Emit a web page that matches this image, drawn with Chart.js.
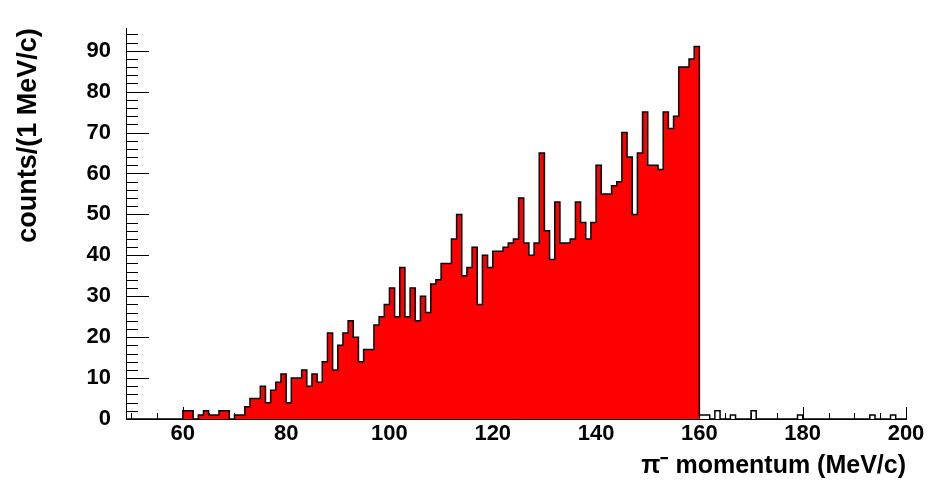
<!DOCTYPE html>
<html>
<head>
<meta charset="utf-8">
<script src="https://cdn.jsdelivr.net/npm/chart.js@4/dist/chart.umd.min.js"></script>
<style>
  html, body { margin: 0; padding: 0; background: #fff; }
  canvas { display: block; }
</style>
</head>
<body>
<canvas id="c" width="939" height="484"></canvas>
<script>
// Histogram: counts per 1 MeV/c bin, bins start at 49 MeV/c and end at 200 MeV/c
const firstBinEdge = 49;
const lastBinEdge = 200;
const counts = [
  // 49-59
  0, 0, 0, 0, 0, 0, 0, 0, 0, 0, 0,
  // 60-69
  2, 2, 0, 1, 2, 1, 1, 2, 2, 0,
  // 70-79
  1, 1, 3, 5, 5, 8, 4, 7, 9, 11,
  // 80-89
  4, 10, 10, 12, 8, 11, 9, 14, 21, 12,
  // 90-99
  18, 21, 24, 20, 14, 17, 17, 23, 25, 28,
  // 100-109
  32, 25, 37, 25, 32, 24, 30, 26, 33, 34,
  // 110-119
  38, 38, 44, 50, 35, 37, 42, 28, 40, 37,
  // 120-129
  41, 41, 42, 43, 44, 54, 43, 40, 43, 65,
  // 130-139
  46, 39, 53, 43, 43, 44, 53, 48, 44, 48,
  // 140-149
  62, 55, 55, 57, 58, 70, 64, 50, 65, 75,
  // 150-159
  62, 62, 61, 75, 71, 74, 86, 86, 88, 91,
  // 160-169
  1, 1, 0, 2, 0, 0, 1, 0, 0, 0,
  // 170-179
  2, 0, 0, 0, 0, 0, 0, 0, 0, 1,
  // 180-189
  0, 0, 0, 0, 0, 0, 0, 0, 0, 0,
  // 190-199
  0, 0, 0, 1, 0, 0, 0, 1, 0, 0
];
// range of bins drawn filled in red
const filledFrom = 60;
const filledTo = 160;
const xTickLabels = [60, 80, 100, 120, 140, 160, 180, 200];
const yTickLabels = [0, 10, 20, 30, 40, 50, 60, 70, 80, 90];
const yMax = 95.5;

const binEdges = counts.map((_, i) => firstBinEdge + i);
const outlineData = binEdges.map((e, i) => ({ x: e, y: counts[i] }));
outlineData.push({ x: lastBinEdge, y: 0 });
const fillData = binEdges
  .map((e, i) => ({ x: e, y: counts[i] }))
  .filter(p => p.x >= filledFrom && p.x < filledTo);
fillData.push({ x: filledTo, y: 0 });

const FONT = "'Liberation Sans', Arial, Helvetica, sans-serif";

const insideTicks = {
  id: 'insideTicks',
  beforeDatasetsDraw(chart) {
    const { ctx, scales: { x, y } } = chart;
    ctx.save();
    ctx.strokeStyle = '#000';
    ctx.lineWidth = 1;
    ctx.beginPath();
    const y0 = y.getPixelForValue(0);
    for (let v = 50; v <= lastBinEdge; v += 5) {
      const px = Math.round(x.getPixelForValue(v)) + 0.5;
      const len = xTickLabels.includes(v) ? 12 : 6;
      ctx.moveTo(px, y0);
      ctx.lineTo(px, y0 - len);
    }
    const x0 = x.getPixelForValue(firstBinEdge);
    for (let v = 0; v <= yMax; v += 2) {
      const py = Math.round(y.getPixelForValue(v)) + 0.5;
      const len = yTickLabels.includes(v) ? 23 : 12;
      ctx.moveTo(x0, py);
      ctx.lineTo(x0 + len, py);
    }
    ctx.stroke();
    ctx.restore();
  }
};

new Chart(document.getElementById('c'), {
  type: 'line',
  data: {
    datasets: [
      {
        label: 'outline',
        data: outlineData,
        stepped: 'before',
        borderColor: '#000',
        borderWidth: 1.5,
        pointRadius: 0,
        fill: false
      },
      {
        label: 'filled',
        data: fillData,
        stepped: 'before',
        borderWidth: 0,
        borderColor: 'rgba(0,0,0,0)',
        backgroundColor: '#ff0000',
        pointRadius: 0,
        fill: 'origin'
      }
    ]
  },
  options: {
    responsive: false,
    animation: false,
    devicePixelRatio: 1,
    layout: { padding: { left: 0, right: 33, top: 22, bottom: 0 } },
    plugins: {
      legend: { display: false },
      tooltip: { enabled: false }
    },
    scales: {
      x: {
        type: 'linear',
        min: firstBinEdge,
        max: lastBinEdge,
        afterBuildTicks: s => { s.ticks = xTickLabels.map(v => ({ value: v })); },
        afterFit: s => { s.height = 65; },
        grid: { display: false, drawTicks: false },
        border: { display: true, color: '#000', width: 1 },
        ticks: {
          autoSkip: false,
          maxRotation: 0,
          padding: 2,
          color: '#000',
          font: { family: FONT, size: 22, weight: 'bold' }
        },
        title: {
          display: true,
          text: 'π⁻ momentum (MeV/c)',
          align: 'end',
          color: '#000',
          padding: { top: 0, bottom: 3 },
          font: { family: FONT, size: 25, weight: 'bold' }
        }
      },
      y: {
        type: 'linear',
        min: 0,
        max: yMax,
        afterBuildTicks: s => { s.ticks = yTickLabels.map(v => ({ value: v })); },
        afterFit: s => { s.width = 126; },
        grid: { display: false, drawTicks: false },
        border: { display: true, color: '#000', width: 1 },
        ticks: {
          padding: 15,
          color: '#000',
          font: { family: FONT, size: 22, weight: 'bold' }
        },
        title: {
          display: true,
          text: 'counts/(1 MeV/c)',
          align: 'end',
          color: '#000',
          padding: { top: 12, bottom: 0 },
          font: { family: FONT, size: 27, weight: 'bold' }
        }
      }
    }
  },
  plugins: [insideTicks]
});
</script>
</body>
</html>
